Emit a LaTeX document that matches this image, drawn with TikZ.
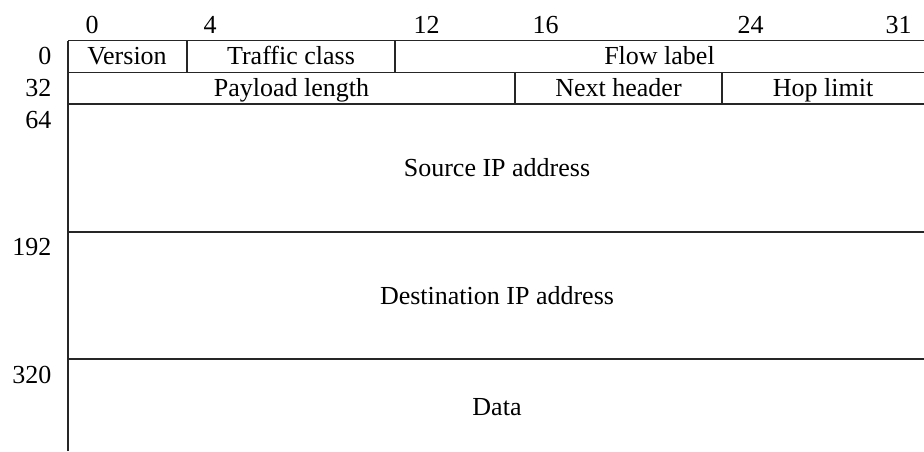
\documentclass[tikz,border=0pt]{standalone}
\usepackage{fontspec}
\setmainfont{Liberation Serif}
\begin{document}
\begin{tikzpicture}[x=0.5pt,y=-0.5pt,line width=0.65pt,
  txt/.style={anchor=base,inner sep=0pt,font=\fontsize{13}{15}\selectfont},
  bitlbl/.style={anchor=base west,inner sep=0pt,font=\fontsize{13}{15}\selectfont},
  rowlbl/.style={anchor=base east,inner sep=0pt,font=\fontsize{13}{15}\selectfont},
  rule/.style={draw=black!85}]
\useasboundingbox (0,0) rectangle (924,451);
% grid lines
\draw[rule] (68,451) -- (68,40.7);
\draw[rule] (68,40.7) -- (924,40.7);
\draw[rule] (68,72.3) -- (924,72.3);
\draw[rule] (68,104) -- (924,104);
\draw[rule] (68,232) -- (924,232);
\draw[rule] (68,359) -- (924,359);
\draw[rule] (187,40.7) -- (187,72.3);
\draw[rule] (395,40.7) -- (395,72.3);
\draw[rule] (515,72.3) -- (515,104);
\draw[rule] (722,72.3) -- (722,104);
% bit labels
\node[bitlbl] (b0)  at (85,33) {0};
\node[bitlbl] (b4)  at (203,33) {4};
\node[bitlbl] (b12) at (413,33) {12};
\node[bitlbl] (b16) at (532,33) {16};
\node[bitlbl] (b24) at (737,33) {24};
\node[bitlbl] (b31) at (885,33) {31};
% row labels
\node[rowlbl] (r0)   at (52,64.5) {0};
\node[rowlbl] (r32)  at (52,96) {32};
\node[rowlbl] (r64)  at (52,128.5) {64};
\node[rowlbl] (r192) at (52,255) {192};
\node[rowlbl] (r320) at (52,383) {320};
% fields
\node[txt] (ver)  at (127,64.5) {Version};
\node[txt] (tc)   at (291,64.5) {Traffic class};
\node[txt] (fl)   at (659.5,64.5) {Flow label};
\node[txt] (pl)   at (291.5,96) {Payload length};
\node[txt] (nh)   at (618.5,96) {Next header};
\node[txt] (hl)   at (823,96) {Hop limit};
\node[txt] (src)  at (497,176) {Source IP address};
\node[txt] (dst)  at (497,304) {Destination IP address};
\node[txt] (data) at (497,415) {Data};
\end{tikzpicture}
\end{document}
